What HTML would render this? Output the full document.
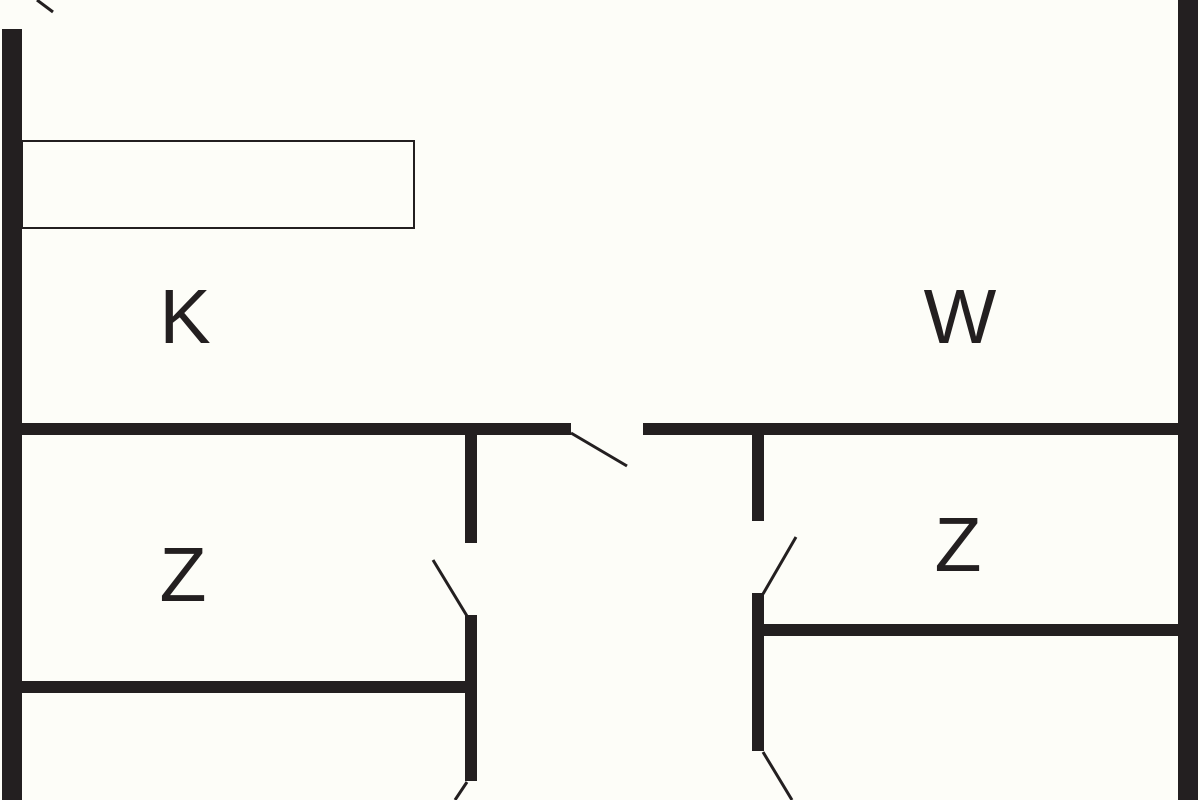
<!DOCTYPE html>
<html><head><style>
html,body{margin:0;padding:0;background:#fdfdf8;}
svg{display:block}
text{font-family:"Liberation Sans",sans-serif;font-size:77px;fill:#231f20;text-anchor:middle}
</style></head><body>
<svg width="1200" height="800" viewBox="0 0 1200 800">
<rect width="1200" height="800" fill="#fdfdf8"/>
<g fill="#231f20">
<rect x="2" y="29" width="20" height="771"/>
<rect x="1178" y="0" width="20" height="800"/>
<rect x="22" y="423" width="549" height="12"/>
<rect x="643" y="423" width="535" height="12"/>
<rect x="465" y="435" width="12" height="108"/>
<rect x="465" y="615" width="12" height="166"/>
<rect x="22" y="681" width="443" height="12"/>
<rect x="752" y="435" width="12" height="86"/>
<rect x="752" y="593" width="12" height="158"/>
<rect x="764" y="624" width="414" height="12"/>
</g>
<g stroke="#231f20" stroke-width="3" fill="none">
<line x1="37" y1="0" x2="53" y2="12"/>
<line x1="571" y1="433" x2="627" y2="466"/>
<line x1="467" y1="616" x2="433" y2="560"/>
<line x1="467" y1="782" x2="455" y2="800"/>
<line x1="763" y1="594" x2="796" y2="537"/>
<line x1="763" y1="752" x2="792" y2="800"/>
<rect x="22" y="141" width="392" height="87" stroke-width="2"/>
</g>
<text x="185" y="343">K</text>
<text x="960" y="343">W</text>
<text x="183" y="601">Z</text>
<text x="958" y="571">Z</text>
</svg>
</body></html>
